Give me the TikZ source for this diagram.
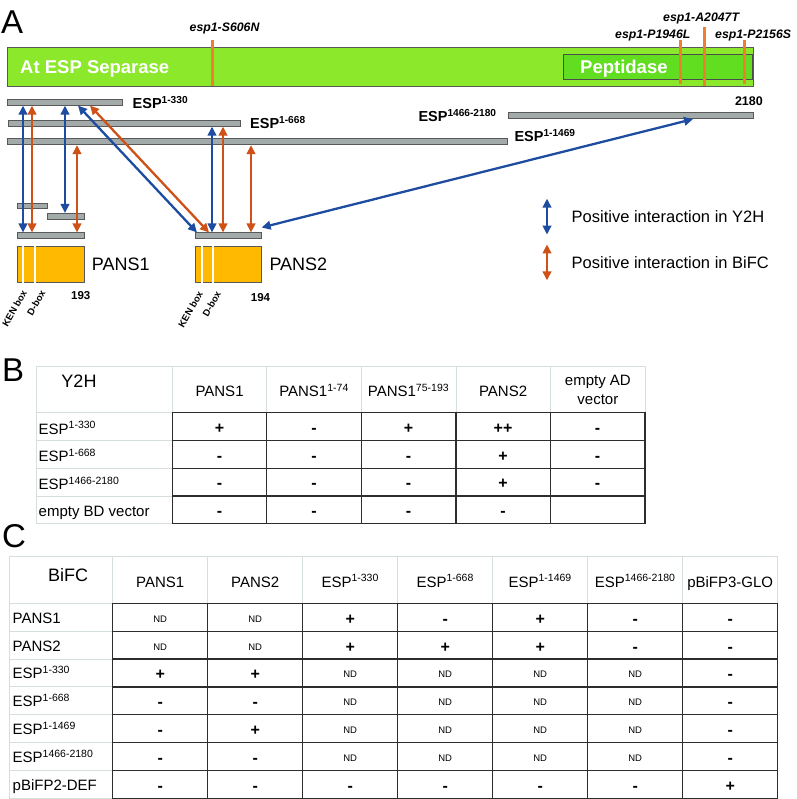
\documentclass[tikz,border=0pt]{standalone}
\usepackage{fontspec}
\setmainfont{Liberation Sans}
\usepackage{tikz}
\usetikzlibrary{arrows.meta}

\definecolor{espgreen}{RGB}{140,232,42}
\definecolor{pepgreen}{RGB}{98,222,32}
\definecolor{bargrey}{RGB}{163,170,170}
\definecolor{pansorange}{RGB}{255,185,0}
\definecolor{mutorange}{RGB}{240,126,48}
\definecolor{yblue}{RGB}{30,76,160}
\definecolor{bred}{RGB}{206,82,24}
\definecolor{gridlight}{RGB}{214,222,222}
\definecolor{griddark}{RGB}{45,45,45}

\newcommand\fsz[1]{\fontsize{#1}{#1}\selectfont}
\newcommand\ndm{\raisebox{2pt}{\mdseries\fsz{9.5}ND}}

\begin{document}
\begin{tikzpicture}[x=1pt,y=-1pt,
  bar/.style={draw=black!65,fill=bargrey,line width=0.6pt,inner sep=0pt,minimum height=6pt,anchor=north west},
  pansbox/.style={draw=black!65,fill=pansorange,line width=0.6pt,inner sep=0pt,minimum height=36pt,anchor=north west},
  y2h/.style={{Triangle[length=9pt,width=8.5pt]}-{Triangle[length=9pt,width=8.5pt]},line width=2.3pt,yblue},
  bifc/.style={{Triangle[length=9pt,width=8.5pt]}-{Triangle[length=9pt,width=8.5pt]},line width=2.3pt,bred},
  mut/.style={mutorange,line width=3pt},
  mutlab/.style={font=\bfseries\itshape\fsz{12.3},anchor=base west,inner sep=0pt},
  esplab/.style={font=\bfseries\fsz{14.5},anchor=base west,inner sep=0pt},
  boxlab/.style={font=\bfseries\fsz{9.5},rotate=60,anchor=east,inner sep=0pt},
  panel/.style={font=\fsz{33},anchor=base west,inner sep=0pt},
  cell/.style={font=\fsz{15},inner sep=0pt},
  val/.style={font=\bfseries\fsz{16},anchor=base,inner sep=0pt},
  light/.style={gridlight,line width=0.8pt},
  dark/.style={griddark,line width=1.3pt}]
  \useasboundingbox (0,0) rectangle (796,799);

  % A
  \node[panel] (labA) at (1,34) {A};
  \node[draw=black!65,fill=espgreen,line width=0.6pt,inner sep=0pt,minimum width=746pt,minimum height=39pt,anchor=north west] (esp) at (7,47) {};
  \node[draw=black!70,fill=pepgreen,line width=0.6pt,inner sep=0pt,minimum width=189pt,minimum height=25pt,anchor=north west] (pep) at (563,54) {};
  \node[font=\bfseries\fsz{18.5},white,anchor=base west,inner sep=0pt] (espname) at (20,74) {At ESP Separase};
  \node[font=\bfseries\fsz{18.5},white,anchor=base west,inner sep=0pt] (pepname) at (580,74) {Peptidase};
  \draw[mut] (212,40) -- (212,86);
  \draw[mut] (680,40) -- (680,84);
  \draw[mut] (704,27.5) -- (704,86);
  \draw[mut] (744.3,40) -- (744.3,84);
  \node[mutlab] (s606) at (189.5,32) {esp1-S606N};
  \node[mutlab] (p1946) at (615,38.3) {esp1-P1946L};
  \node[mutlab] (a2047) at (663,21.7) {esp1-A2047T};
  \node[mutlab] (p2156) at (715,38.3) {esp1-P2156S};

  \node[bar,minimum width=115pt] (e330) at (7,99) {};
  \node[bar,minimum width=232pt] (e668) at (8,120) {};
  \node[bar,minimum width=500pt] (e1469) at (7,138.5) {};
  \node[bar,minimum width=245pt] (e1466) at (508,112.5) {};
  \node[esplab] (l330) at (132.5,108.3) {ESP\textsuperscript{1-330}};
  \node[esplab] (l668) at (250,128.3) {ESP\textsuperscript{1-668}};
  \node[esplab] (l1469) at (514.3,141.5) {ESP\textsuperscript{1-1469}};
  \node[esplab] (l1466) at (418.3,121.5) {ESP\textsuperscript{1466-2180}};
  \node[font=\bfseries\fsz{12.5},anchor=base east,inner sep=0pt] (end2180) at (763,106) {2180};

  \node[bar,minimum width=30pt,minimum height=5.5pt] (p1n) at (17,203) {};
  \node[bar,minimum width=37pt] (p1c) at (47,213) {};
  \node[bar,minimum width=67pt] (p1) at (17,232.5) {};
  \node[bar,minimum width=66pt] (p2) at (195,232.5) {};
  \node[pansbox,minimum width=67pt] (pans1) at (17,246) {};
  \node[pansbox,minimum width=66pt] (pans2) at (195,246) {};
  \draw[white,line width=1.8pt] ([xshift=6pt]pans1.north west) -- ([xshift=6pt]pans1.south west);
  \draw[white,line width=1.8pt] ([xshift=18pt]pans1.north west) -- ([xshift=18pt]pans1.south west);
  \draw[white,line width=1.8pt] ([xshift=7pt]pans2.north west) -- ([xshift=7pt]pans2.south west);
  \draw[white,line width=1.8pt] ([xshift=18pt]pans2.north west) -- ([xshift=18pt]pans2.south west);
  \node[font=\fsz{18},anchor=base west,inner sep=0pt] (n1) at (91.7,270.7) {PANS1};
  \node[font=\fsz{18},anchor=base west,inner sep=0pt] (n2) at (269.3,270.7) {PANS2};
  \node[font=\bfseries\fsz{11.5},anchor=base west,inner sep=0pt] (len1) at (71,299) {193};
  \node[font=\bfseries\fsz{11.5},anchor=base west,inner sep=0pt] (len2) at (250.7,301.7) {194};
  \node[boxlab] (ken1) at (24.5,291) {KEN box};
  \node[boxlab] (dbox1) at (43,291) {D-box};
  \node[boxlab] (ken2) at (200.5,292) {KEN box};
  \node[boxlab] (dbox2) at (218.5,292) {D-box};

  \foreach \x/\src/\dst/\s in {23/e330/p1/y2h,32/e330/p1/bifc,65/e330/p1c/y2h,77/e1469/p1/bifc,212/e668/p2/y2h,223/e668/p2/bifc,251/e1469/p2/bifc}
    \draw[\s] (\src.south -| \x,0) -- (\dst.north -| \x,0);
  \draw[y2h] (e330.south -| 78,0) -- (p2.north -| 197,0);
  \draw[bifc] (e330.south -| 90,0) -- (p2.north -| 209,0);
  \draw[y2h] (e1466.south -| 693,0) -- ([yshift=5pt]p2.north east);

  \node[font=\fsz{16.5},anchor=base west,inner sep=0pt] (legy) at (571.5,222.5) {Positive interaction in Y2H};
  \node[font=\fsz{16.5},anchor=base west,inner sep=0pt] (legb) at (571.5,268.3) {Positive interaction in BiFC};
  \draw[y2h] ([xshift=-24.5pt,yshift=18pt]legy.west) -- ([xshift=-24.5pt,yshift=-18pt]legy.west);
  \draw[bifc] ([xshift=-24.5pt,yshift=18pt]legb.west) -- ([xshift=-24.5pt,yshift=-18pt]legb.west);

  % B
  \node[panel] (labB) at (2,381.5) {B};
  \draw[light] (36,366) rectangle (645,523.3);
  \foreach \c in {172.3,266.7,361.7,456,550.7} \draw[light] (\c,366) -- (\c,412.7);
  \foreach \r in {412.7,440.7,468.3,496} \draw[light] (36,\r) -- (172.3,\r);
  \draw[dark] (172.3,412.7) rectangle (645,523.3);
  \foreach \c in {266.7,361.7,456,550.7} \draw[dark] (\c,412.7) -- (\c,523.3);
  \foreach \r in {440.7,468.3,496} \draw[dark] (172.3,\r) -- (645,\r);
  \node[font=\fsz{18},anchor=base,inner sep=0pt] (y2hhead) at (79,387) {Y2H};
  \foreach \t [count=\j] in {PANS1,{PANS1\textsuperscript{1-74}},{PANS1\textsuperscript{75-193}},PANS2}
    \node[cell,anchor=base] (bh\j) at ({172.3+94.5*(\j-0.5)},396.5) {\t};
  \node[font=\fontsize{15}{19.5}\selectfont,inner sep=0pt,align=center] (bh5) at (597.9,390) {empty AD\\vector};
  \foreach \t [count=\i] in {{ESP\textsuperscript{1-330}},{ESP\textsuperscript{1-668}},{ESP\textsuperscript{1466-2180}},{empty BD vector}}
    \node[cell,anchor=base west] (br\i) at (38.5,{412.7+27.65*(\i-0.5)+7.5}) {\t};
  \foreach \vals [count=\i] in {{+,-,+,++,-},{-,-,-,+,-},{-,-,-,+,-},{-,-,-,-}}
    \foreach \v [count=\j] in \vals
      \node[val] (bv\i-\j) at ({172.3+94.5*(\j-0.5)},{412.7+27.65*(\i-0.5)+7}) {\v};

  % C
  \node[panel] (labC) at (2,547.5) {C};
  \draw[light] (9,556) rectangle (777.7,798.3);
  \foreach \k in {0,...,6} \draw[light] ({112.7+95*\k},556) -- ({112.7+95*\k},603.3);
  \foreach \k in {0,...,6} \draw[light] (9,{603.3+27.857*\k}) -- (112.7,{603.3+27.857*\k});
  \draw[dark] (112.7,603.3) rectangle (777.7,798.3);
  \foreach \k in {1,...,6} \draw[dark] ({112.7+95*\k},603.3) -- ({112.7+95*\k},798.3);
  \foreach \k in {1,...,6} \draw[dark] (112.7,{603.3+27.857*\k}) -- (777.7,{603.3+27.857*\k});
  \node[font=\fsz{18},anchor=base,inner sep=0pt] (bifchead) at (68,581.7) {BiFC};
  \foreach \t [count=\j] in {PANS1,PANS2,{ESP\textsuperscript{1-330}},{ESP\textsuperscript{1-668}},{ESP\textsuperscript{1-1469}},{ESP\textsuperscript{1466-2180}},pBiFP3-GLO}
    \node[cell,anchor=base] (ch\j) at ({112.7+95*(\j-0.5)},587) {\t};
  \foreach \t [count=\i] in {PANS1,PANS2,{ESP\textsuperscript{1-330}},{ESP\textsuperscript{1-668}},{ESP\textsuperscript{1-1469}},{ESP\textsuperscript{1466-2180}},pBiFP2-DEF}
    \node[cell,anchor=base west] (cr\i) at (12.5,{603.3+27.857*(\i-0.5)+6}) {\t};
  \foreach \vals [count=\i] in {{\ndm,\ndm,+,-,+,-,-},{\ndm,\ndm,+,+,+,-,-},{+,+,\ndm,\ndm,\ndm,\ndm,-},{-,-,\ndm,\ndm,\ndm,\ndm,-},{-,+,\ndm,\ndm,\ndm,\ndm,-},{-,-,\ndm,\ndm,\ndm,\ndm,-},{-,-,-,-,-,-,+}}
    \foreach \v [count=\j] in \vals
      \node[val] (cv\i-\j) at ({112.7+95*(\j-0.5)},{603.3+27.857*(\i-0.5)+7}) {\v};
\end{tikzpicture}
\end{document}
